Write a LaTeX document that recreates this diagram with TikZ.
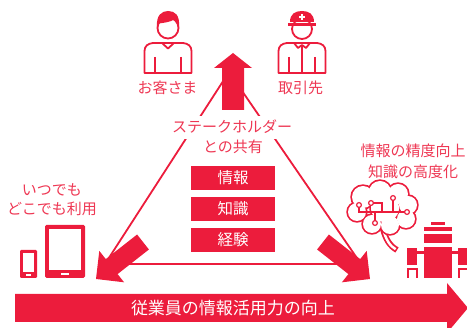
\documentclass[tikz,border=0pt]{standalone}
\usepackage{fontspec}
\setmainfont{Noto Sans CJK JP}
\definecolor{accent}{RGB}{236,28,60}
\colorlet{labeltext}{accent!88!white}
\begin{document}
\begin{tikzpicture}[x=1pt,y=-1pt,
  lbl/.style={text=labeltext,font=\fontsize{15}{18}\selectfont,inner sep=0pt,
    text height=12.5pt,text depth=1.5pt},
  infobox/.style={fill=accent,text=white,minimum width=84pt,minimum height=24pt,
    inner sep=0pt,font=\fontsize{15.5}{18}\selectfont,text height=12.9pt,text depth=1.6pt},
  edge/.style={draw=accent,line width=1.8pt},
  icon/.style={draw=accent,line width=1.8pt,line join=round},
  blockarrow/.style={fill=accent},
]
\useasboundingbox (0,0) rectangle (467,328);

% triangle of sharing
\coordinate (apex) at (229,72);
\coordinate (cl) at (105,264);
\coordinate (cr) at (361,264);
\draw[edge,line join=miter] (cl) -- (apex) -- (cr) -- cycle;

\node[lbl,fill=white,inner xsep=2pt,inner ysep=4.5pt] (share1) at (232,127.5) {ステークホルダー};
\node[lbl] (share2) at (233,147.5) {との共有};

% block arrows
\fill[blockarrow] (222,110) -- (222,68) -- (214,68) -- (233,53) -- (252,68) -- (244,68) -- (244,110) -- cycle;
\fill[blockarrow] (137.1,234.5) -- (105.8,259.1) -- (99.3,250.9) -- (96,279) -- (124.1,282.3) -- (117.6,274.1) -- (148.9,249.5) -- cycle;
\fill[blockarrow] (328.9,234.5) -- (360.2,259.1) -- (366.7,250.9) -- (370,279) -- (341.9,282.3) -- (348.4,274.1) -- (317.1,249.5) -- cycle;

% shared contents
\node[infobox] (b1) at (233,178) {情報};
\node[infobox] (b2) at (233,209) {知識};
\node[infobox] (b3) at (233,240) {経験};

% customer
\begin{scope}[shift={(168,0)}]
  \draw[icon,fill=white] (-23.5,73) -- (-23.5,51) .. controls (-23.5,46) and (-20,43.5) .. (-15,43) -- (15,43) .. controls (20,43.5) and (23.5,46) .. (23.5,51) -- (23.5,73) -- cycle;
  \draw[icon] (-13,57) -- (-13,73) (13,57) -- (13,73);
  \draw[icon] (-6,43) -- (0,48.5) -- (6,43);
  \draw[icon,fill=white] (0,28) circle[radius=10.5];
  \fill[accent] (-11,27) .. controls (-12,15) and (-6,11) .. (0,11) .. controls (7,11) and (12,15) .. (11,27) -- (9.5,26) .. controls (9,22) and (8,20.5) .. (6,19.5) .. controls (3,22) and (-5,23) .. (-9.8,23.5) -- cycle;
\end{scope}
\node[lbl] (cust) at (167.5,88) {お客さま};

% business partner
\begin{scope}[shift={(302,0)}]
  \draw[icon,fill=white] (-23.5,73) -- (-23.5,51) .. controls (-23.5,46) and (-20,43.5) .. (-15,43) -- (15,43) .. controls (20,43.5) and (23.5,46) .. (23.5,51) -- (23.5,73) -- cycle;
  \draw[icon] (-13,57) -- (-13,73) (13,57) -- (13,73);
  \draw[icon] (-8,43) -- (-4,48) -- (0,45) -- (4,48) -- (8,43);
  \draw[icon] (0,45) -- (0,73);
  \draw[icon,fill=white] (0,29) circle[radius=10];
  \fill[accent] (-12,22) .. controls (-12,14) and (-7,11) .. (0,11) .. controls (7,11) and (12,14) .. (12,22) -- cycle;
  \fill[accent] (-14,23.3) rectangle (14,26.5);
  \fill[white] (-1,14.5) rectangle (1,20.5);
  \fill[white] (-3,16.5) rectangle (3,18.5);
\end{scope}
\node[lbl] (supp) at (300.5,88) {取引先};

% devices
\fill[accent,rounded corners=1.5pt] (45,225) rectangle (85,278);
\fill[white] (49,229) rectangle (81,270);
\fill[white] (61,273) rectangle (69,275);
\fill[accent,rounded corners=1.2pt] (20,250) rectangle (37,278);
\fill[white] (23,253) rectangle (34,272);
\fill[white] (26,274.3) rectangle (31,276);
\node[lbl] (any1) at (52,190) {いつでも};
\node[lbl] (any2) at (52,209) {どこでも利用};

% brain with circuit
\draw[accent,line width=6pt] (383,229) .. controls (386,240) and (390,246) .. (397,250);
\draw[white,line width=2.4pt,shorten >=1.6pt] (383,229) .. controls (386,240) and (390,246) .. (397,250);
\foreach \cx/\cy/\r in {363/197/11,380/192/11,398/194/10,408/205/9,406/219/9,390/225/9,372/224/9,357/212/9,385/208/14}
  \draw[accent,line width=3.4pt] (\cx,\cy) circle[radius=\r];
\foreach \cx/\cy/\r in {363/197/11,380/192/11,398/194/10,408/205/9,406/219/9,390/225/9,372/224/9,357/212/9,385/208/14}
  \fill[white] (\cx,\cy) circle[radius=\r];
\draw[accent,line width=1.3pt] (359,205) -- (359,212) -- (407,212)
  (371,203) -- (382,203) -- (382,212) (393,198) -- (393,212) (375,223) -- (375,212);
\foreach \cx/\cy in {359/205,371/203,393/198,407/212,375/223}
  \draw[accent,line width=1.2pt,fill=white] (\cx,\cy) circle[radius=2.4];
\node[lbl] (acc1) at (413,151) {情報の精度向上};
\node[lbl] (acc2) at (413,172) {知識の高度化};

% robot
\fill[accent] (431,222) rectangle (445,225.5);
\fill[accent] (424,227) rectangle (452,231);
\fill[accent] (424,234) rectangle (452,243);
\fill[accent] (424,247) rectangle (452,278);
\fill[accent] (407,248) rectangle (417,265);
\fill[accent] (417,251.5) rectangle (424,254.5);
\fill[accent] (458,248) rectangle (468,265);
\fill[accent] (452,251.5) rectangle (458,254.5);
\draw[accent,line width=2.2pt] (408.1,278) -- (408.1,269.4) -- (416.6,269.4) -- (416.6,278);
\draw[accent,line width=2.2pt] (459.1,278) -- (459.1,269.4) -- (467.6,269.4) -- (467.6,278);

% bottom arrow
\fill[blockarrow] (15,294) -- (447,294) -- (447,283) -- (468,308) -- (447,333) -- (447,322) -- (15,322) -- cycle;
\node[text=white,font=\fontsize{17}{20}\selectfont,inner sep=0pt,text height=14.2pt,text depth=1.7pt] (goal) at (233,308) {従業員の情報活用力の向上};
\end{tikzpicture}
\end{document}
